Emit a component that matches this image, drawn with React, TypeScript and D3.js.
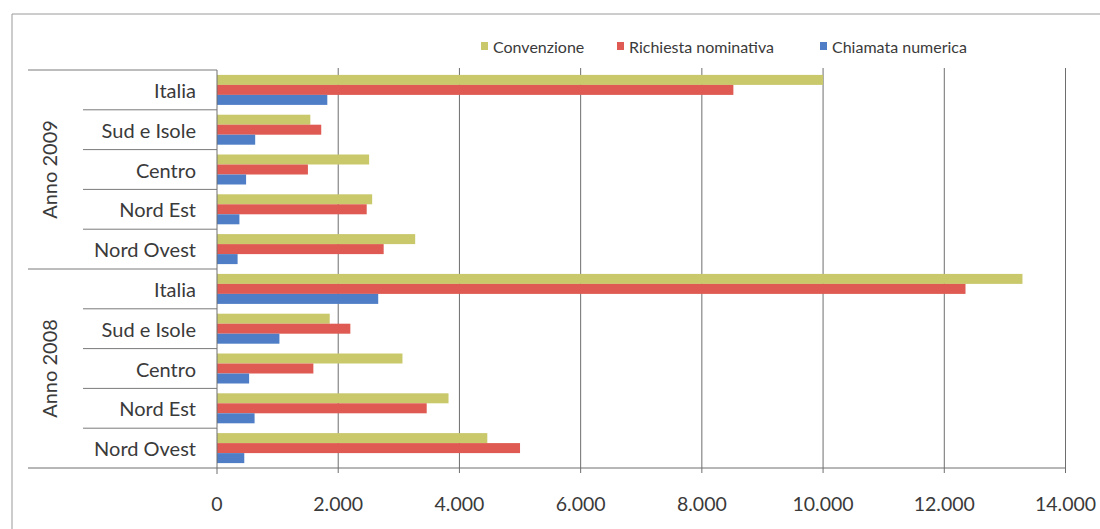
import React from "react";
import * as d3 from "d3";

// ---- data ----
const years = ["Anno 2009", "Anno 2008"];
const regions = ["Italia", "Sud e Isole", "Centro", "Nord Est", "Nord Ovest"];
const seriesNames = ["Convenzione", "Richiesta nominativa", "Chiamata numerica"];
// values in order: years x regions (top to bottom)
const convenzione = [10000, 1540, 2510, 2560, 3270, 13290, 1860, 3060, 3820, 4460];
const richiestaNominativa = [8520, 1720, 1500, 2470, 2750, 12350, 2200, 1590, 3460, 5000];
const chiamataNumerica = [1820, 630, 480, 370, 340, 2660, 1030, 530, 620, 450];
const xTicks = [0, 2000, 4000, 6000, 8000, 10000, 12000, 14000];

const colors = ["#c9c96c", "#de5a52", "#4f7ec6"];
const FONT = "Lato, 'Open Sans', sans-serif";

export default function App() {
  const W = 1100;
  const H = 529;
  const x = d3.scaleLinear().domain([0, 14000]).range([217, 1065.5]);
  const keys = years.flatMap((yr) => regions.map((r) => yr + "|" + r));
  const y = d3.scaleBand<string>().domain(keys).range([70, 468]).padding(0);
  const inner = d3
    .scaleBand<string>()
    .domain(seriesNames)
    .range([0, y.bandwidth()])
    .paddingInner(0)
    .paddingOuter(0.49);
  const seriesValues = [convenzione, richiestaNominativa, chiamataNumerica];
  const fmt = (v: number) => d3.format(",")(v).replace(/,/g, ".");
  const axisY = 468;
  const legendX = [481, 617, 820];

  return (
    <svg
      width={W}
      height={H}
      style={{ position: "absolute", left: 0, top: 0, background: "#fff" }}
      fontFamily={FONT}
    >
      {/* outer frame */}
      <line x1={12} x2={W} y1={14} y2={14} stroke="#9a9a9a" strokeWidth={1} />
      <line x1={12} x2={12} y1={14} y2={H} stroke="#9a9a9a" strokeWidth={1} />

      {/* gridlines */}
      {xTicks.slice(1).map((t) => (
        <line key={"g" + t} x1={x(t)} x2={x(t)} y1={68} y2={axisY + 5} stroke="#6e6e6e" strokeWidth={1} />
      ))}

      {/* bars */}
      {keys.map((k, i) =>
        seriesNames.map((s, j) => (
          <rect
            key={k + s}
            x={x(0)}
            y={(y(k) as number) + (inner(s) as number)}
            width={x(seriesValues[j][i]) - x(0)}
            height={inner.bandwidth()}
            fill={colors[j]}
          />
        ))
      )}

      {/* axes */}
      <line x1={x(0)} x2={x(0)} y1={70} y2={axisY + 6} stroke="#6e6e6e" strokeWidth={1} />
      <line x1={28} x2={x(14000)} y1={axisY} y2={axisY} stroke="#6e6e6e" strokeWidth={1} />

      {/* category separators */}
      {keys.map((k, i) => (
        <line
          key={"s" + k}
          x1={i % regions.length === 0 ? 28 : 83}
          x2={x(0)}
          y1={y(k) as number}
          y2={y(k) as number}
          stroke="#7a7a7a"
          strokeWidth={1}
        />
      ))}

      {/* category labels */}
      {keys.map((k) => (
        <text
          key={"l" + k}
          x={196}
          y={(y(k) as number) + y.bandwidth() / 2}
          textAnchor="end"
          dominantBaseline="central"
          fontSize={20}
          fill="#3a3a3a"
        >
          {k.split("|")[1]}
        </text>
      ))}

      {/* year labels */}
      {years.map((yr) => {
        const top = y(yr + "|" + regions[0]) as number;
        const bottom = (y(yr + "|" + regions[regions.length - 1]) as number) + y.bandwidth();
        const cy = (top + bottom) / 2;
        return (
          <text
            key={yr}
            transform={`translate(49,${cy}) rotate(-90)`}
            textAnchor="middle"
            dominantBaseline="central"
            fontSize={20}
            fill="#3a3a3a"
          >
            {yr}
          </text>
        );
      })}

      {/* x tick labels */}
      {xTicks.map((t) => (
        <text
          key={"t" + t}
          x={x(t)}
          y={503}
          textAnchor="middle"
          dominantBaseline="central"
          fontSize={19.5}
          fill="#3a3a3a"
        >
          {fmt(t)}
        </text>
      ))}

      {/* legend */}
      {seriesNames.map((s, j) => (
        <g key={"lg" + s} transform={`translate(${legendX[j]},42)`}>
          <rect x={0} y={0} width={7} height={8} fill={colors[j]} />
          <text x={12} y={4} dominantBaseline="central" fontSize={16} fill="#3a3a3a">
            {s}
          </text>
        </g>
      ))}
    </svg>
  );
}
